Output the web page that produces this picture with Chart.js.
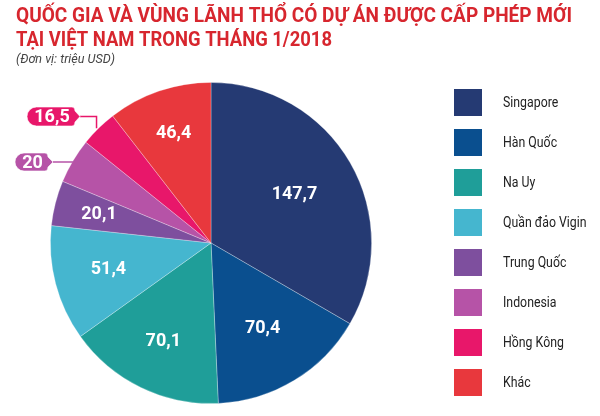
<!DOCTYPE html>
<html>
<head>
<meta charset="utf-8">
<script src="https://cdn.jsdelivr.net/npm/chart.js@4/dist/chart.umd.min.js"></script>
<style>
html,body{margin:0;padding:0;background:#fff;}
#wrap{width:600px;height:416px;position:relative;}
</style>
</head>
<body>
<div id="wrap"><canvas id="c" width="600" height="416"></canvas></div>
<script>
const titleLines = ["QUỐC GIA VÀ VÙNG LÃNH THỔ CÓ DỰ ÁN ĐƯỢC CẤP PHÉP MỚI", "TẠI VIỆT NAM TRONG THÁNG 1/2018"];
const subtitle = "(Đơn vị: triệu USD)";
const categories = ["Singapore", "Hàn Quốc", "Na Uy", "Quần đảo Vigin", "Trung Quốc", "Indonesia", "Hồng Kông", "Khác"];
const values = [147.7, 70.4, 70.1, 51.4, 20.1, 20, 16.5, 46.4];
const valueLabels = ["147,7", "70,4", "70,1", "51,4", "20,1", "20", "16,5", "46,4"];
const colors = ["#253a73", "#0a4f8f", "#1f9e99", "#45b6cf", "#7e4f9e", "#b653a7", "#e8176a", "#e8383d"];

function fitText(ctx, text, x, y, font, color, targetW) {
  ctx.save();
  ctx.font = font;
  ctx.fillStyle = color;
  const w = ctx.measureText(text).width;
  const s = targetW ? targetW / w : 1;
  ctx.translate(x, y);
  ctx.scale(s, 1);
  ctx.fillText(text, 0, 0);
  ctx.restore();
}

const decor = {
  id: 'decor',
  afterDraw(chart) {
    const ctx = chart.ctx;
    ctx.save();
    ctx.textBaseline = 'alphabetic';
    ctx.textAlign = 'left';
    // title
    fitText(ctx, titleLines[0], 16, 22, "bold 20px Roboto", "#d7262e", 556);
    fitText(ctx, titleLines[1], 16, 46, "bold 20px Roboto", "#d7262e", 316);
    fitText(ctx, subtitle, 16, 63, "italic 13px Roboto", "#444", 99);

    // legend
    categories.forEach((c, i) => {
      const y = 89 + i * 40;
      ctx.fillStyle = colors[i];
      ctx.fillRect(454, y, 28, 27);
      ctx.save();
      ctx.font = "14px Roboto";
      ctx.fillStyle = "#222";
      ctx.textBaseline = 'middle';
      ctx.translate(503, y + 14);
      ctx.scale(0.88, 1);
      ctx.fillText(c, 0, 0);
      ctx.restore();
    });

    // slice labels
    const meta = chart.getDatasetMeta(0);
    const radF = [0.6, 0.62, 0.68, 0.66, 0.72, 0, 0, 0.72];
    ctx.textAlign = 'center';
    ctx.textBaseline = 'middle';
    ctx.font = "bold 18px Roboto";
    ctx.fillStyle = "#fff";
    meta.data.forEach((arc, i) => {
      const p = arc.getProps(['x','y','startAngle','endAngle','outerRadius'], true);
      const mid = (p.startAngle + p.endAngle) / 2;
      if (radF[i] > 0) {
        const r = p.outerRadius * radF[i];
        ctx.fillStyle = "#fff";
        ctx.fillText(valueLabels[i], p.x + Math.cos(mid) * r, p.y + Math.sin(mid) * r);
      } else {
        const ex = p.x + Math.cos(mid) * p.outerRadius;
        const ey = p.y + Math.sin(mid) * p.outerRadius;
        let box;
        ctx.strokeStyle = colors[i];
        ctx.lineWidth = 1.5;
        ctx.beginPath();
        if (i === 5) {
          box = {l: 15, r: 48, t: 153, b: 171};
          ctx.moveTo(53, (box.t + box.b) / 2);
          ctx.lineTo(ex, (box.t + box.b) / 2);
        } else {
          box = {l: 27, r: 75, t: 107, b: 126};
          const cy = (box.t + box.b) / 2;
          ctx.moveTo(80, cy);
          ctx.lineTo(ex - 2, cy);
          ctx.lineTo(ex - 2, ey);
        }
        ctx.stroke();
        const cy = (box.t + box.b) / 2, h = box.b - box.t, rr = h / 2;
        ctx.beginPath();
        ctx.moveTo(box.l + rr, box.t);
        ctx.lineTo(box.r - 3, box.t);
        ctx.quadraticCurveTo(box.r, box.t, box.r, box.t + 4);
        ctx.lineTo(box.r + 5, cy);
        ctx.lineTo(box.r, box.b - 4);
        ctx.quadraticCurveTo(box.r, box.b, box.r - 3, box.b);
        ctx.lineTo(box.l + rr, box.b);
        ctx.arc(box.l + rr, cy, rr, Math.PI / 2, Math.PI * 1.5);
        ctx.closePath();
        ctx.fillStyle = colors[i];
        ctx.fill();
        ctx.strokeStyle = "rgba(255,255,255,0.6)";
        ctx.lineWidth = 1;
        ctx.stroke();
        ctx.fillStyle = "#fff";
        ctx.fillText(valueLabels[i], (box.l + box.r) / 2 + 1, cy + 1);
      }
    });
    ctx.restore();
  }
};

new Chart(document.getElementById('c'), {
  type: 'pie',
  data: {
    labels: categories,
    datasets: [{
      data: values,
      backgroundColor: colors,
      borderColor: 'rgba(255,255,255,0.35)',
      borderWidth: 0.8
    }]
  },
  options: {
    responsive: false,
    animation: false,
    devicePixelRatio: 1,
    layout: { padding: { left: 50, right: 228, top: 82, bottom: 12 } },
    plugins: {
      legend: { display: false },
      title: { display: false },
      tooltip: { enabled: false }
    }
  },
  plugins: [decor]
});
</script>
</body>
</html>
